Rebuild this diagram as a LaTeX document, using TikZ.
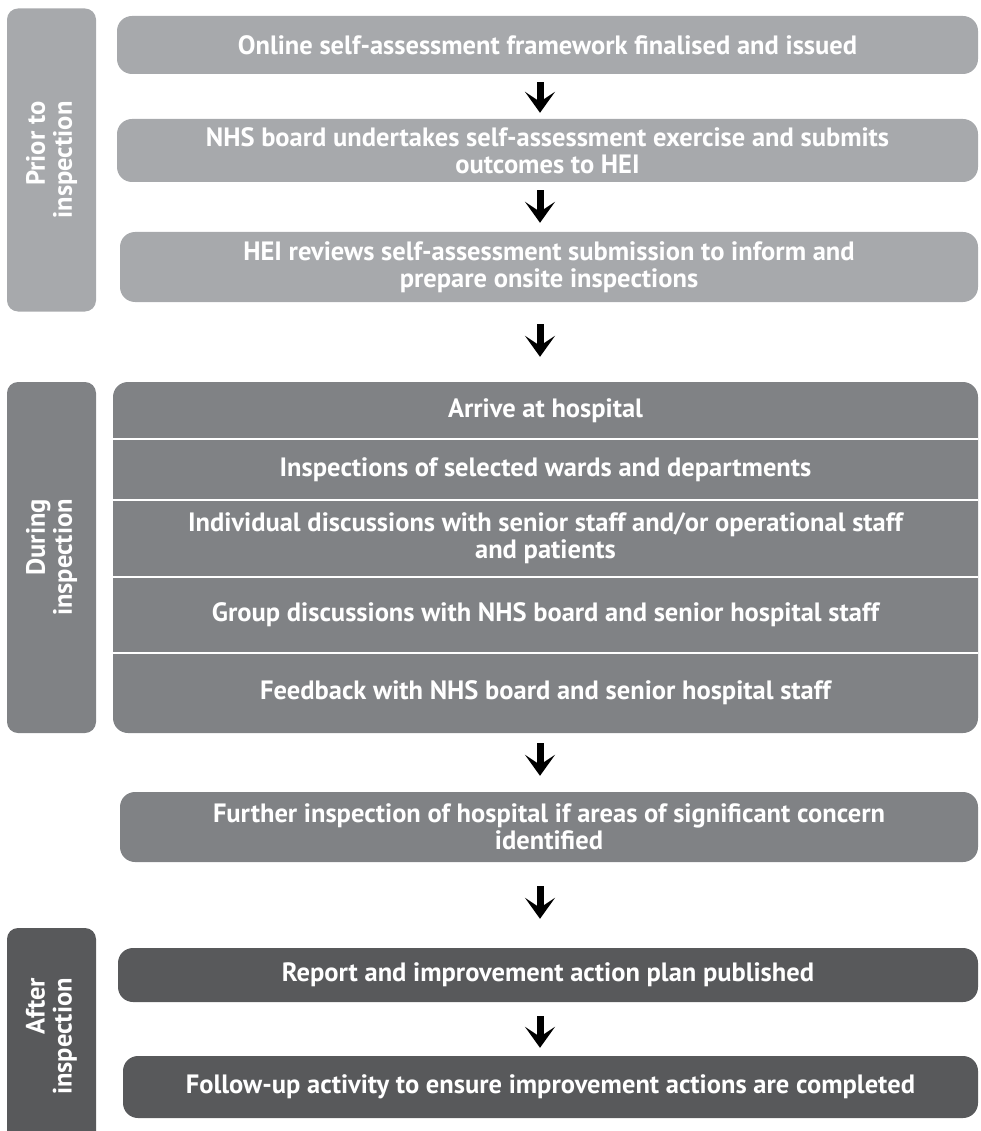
\documentclass[tikz,border=0pt]{standalone}
\usepackage{fontspec}
\setmainfont{PT Sans}
\usetikzlibrary{arrows.meta}

\definecolor{priorgray}{RGB}{167,169,172}
\definecolor{duringgray}{RGB}{128,130,133}
\definecolor{aftergray}{RGB}{88,89,91}

\begin{document}
\begin{tikzpicture}[x=1pt,y=-1pt]
	\tikzset{txt/.style={text=white, align=center, inner sep=0pt, font=\fontsize{26.5}{27}\selectfont\bfseries},
		box/.style={txt, rounded corners=15pt},
		tab/.style={txt, align=right, rounded corners=11pt, rotate=90, minimum height=89pt},
		row/.style={txt, minimum width=865pt},
		flow/.style={line width=7pt, -{Stealth[length=21pt,width=30pt,inset=10pt]}},
		sep/.style={white, line width=1.5pt}}
	\useasboundingbox (0,0) rectangle (980,1131);
	\clip (0,0) rectangle (980,1131);
	\coordinate (ax) at (540,0);

	% phase tabs
	\node[tab, fill=priorgray, minimum width=303pt] (prior) at (51.5,160) {Prior to\\inspection};
	\node[tab, fill=duringgray, minimum width=351pt] (during) at (51.5,557.5) {During\\inspection};
	\node[tab, fill=aftergray, minimum width=217pt] (after) at (51.5,1036.5) {After\\inspection};

	% prior to inspection
	\node[box, fill=priorgray, minimum width=861pt, minimum height=58pt] (b1) at (547.5,45) {Online self-assessment framework finalised and issued};
	\node[box, fill=priorgray, minimum width=861pt, minimum height=63pt] (b2) at (547.5,150.5) {NHS board undertakes self-assessment exercise and submits\\outcomes to HEI};
	\node[box, fill=priorgray, minimum width=858pt, minimum height=70pt] (b3) at (549,267) {HEI reviews self-assessment submission to inform and\\prepare onsite inspections};

	% during inspection
	\node[box, fill=duringgray, minimum width=865pt, minimum height=351pt] (insp) at (545.5,557.5) {};
	\node[row, minimum height=57pt] (r1) at (545.5,410.5) {Arrive at hospital};
	\node[row, minimum height=61pt] (r2) at (545.5,469.5) {Inspections of selected wards and departments};
	\node[row, minimum height=77pt] (r3) at (545.5,538.5) {Individual discussions with senior staff and/or operational staff\\and patients};
	\node[row, minimum height=76pt] (r4) at (545.5,615) {Group discussions with NHS board and senior hospital staff};
	\node[row, minimum height=80pt] (r5) at (545.5,693) {Feedback with NHS board and senior hospital staff};
	\foreach \r in {r1,r2,r3,r4}
	\draw[sep] (\r.south west) -- (\r.south east);

	\node[box, fill=duringgray, minimum width=858pt, minimum height=70pt] (further) at (549,827) {Further inspection of hospital if areas of significant concern\\identified};

	% after inspection
	\node[box, fill=aftergray, minimum width=860pt, minimum height=54pt] (report) at (548,975) {Report and improvement action plan published};
	\node[box, fill=aftergray, minimum width=855pt, minimum height=62pt] (follow) at (550.5,1087) {Follow-up activity to ensure improvement actions are completed};

	% arrows
	\draw[flow, shorten <=8pt, shorten >=6pt] (b1.south -| ax) -- (b2.north -| ax);
	\draw[flow, shorten <=8pt, shorten >=9pt] (b2.south -| ax) -- (b3.north -| ax);
	\draw[flow, shorten <=22pt, shorten >=25pt] (b3.south -| ax) -- (insp.north -| ax);
	\draw[flow, shorten <=10pt, shorten >=16pt] (insp.south -| ax) -- (further.north -| ax);
	\draw[flow, shorten <=24pt, shorten >=29pt] (further.south -| ax) -- (report.north -| ax);
	\draw[flow, shorten <=14pt, shorten >=8pt] (report.south -| ax) -- (follow.north -| ax);
\end{tikzpicture}
\end{document}
